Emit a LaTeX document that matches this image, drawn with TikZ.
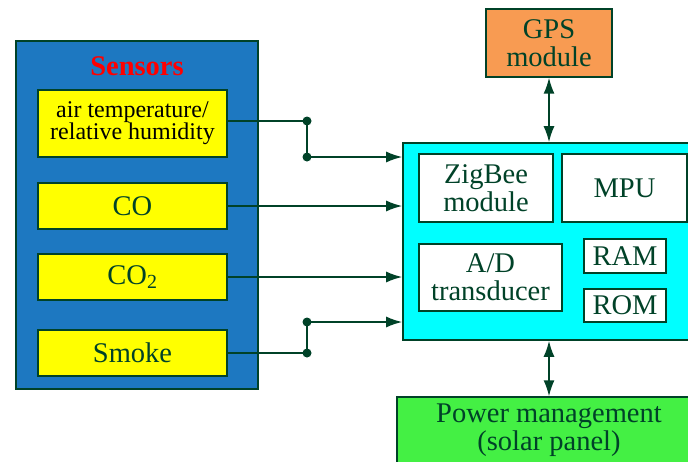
\documentclass[tikz,border=0pt]{standalone}
\usepackage{fontspec}
\setmainfont{Liberation Serif}
\definecolor{sensblue}{RGB}{29, 120, 193}
\definecolor{darkline}{RGB}{0, 66, 40}
\definecolor{gpsorange}{RGB}{248, 155, 82}
\definecolor{powergreen}{RGB}{68, 240, 68}
\definecolor{mcucyan}{RGB}{0, 255, 255}
\definecolor{sensyellow}{RGB}{255, 255, 0}
\usetikzlibrary{arrows.meta, positioning, calc}

\begin{document}
\begin{tikzpicture}[x=1pt, y=-1pt,
  outer/.style={draw=darkline, line width=1.6pt, inner sep=0pt},
  sbox/.style={draw=darkline, line width=1.2pt, fill=sensyellow, minimum width=189pt, inner sep=0pt, align=center, text=darkline, font=\fontsize{28.5}{28}\selectfont},
  ibox/.style={draw=darkline, line width=1.4pt, fill=white, inner sep=0pt, align=center, text=darkline, font=\fontsize{28.5}{28}\selectfont},
  link/.style={draw=darkline, line width=1.6pt},
  arr/.style={link, -{Latex[length=16pt, width=11pt]}},
  darr/.style={link, {Latex[length=16pt, width=11pt]}-{Latex[length=16pt, width=11pt]}},
  jdot/.style={circle, fill=darkline, inner sep=0pt, minimum size=9pt}
]
  \clip (0,0) rectangle (688,461);

  % sensor block
  \node[outer, fill=sensblue, minimum width=242pt, minimum height=348pt] (sensors) at (137, 215) {};
  \node[text=red, font=\fontsize{28.5}{28}\selectfont\bfseries] (title) at (137, 66) {Sensors};
  \node[sbox, minimum height=67pt, text=black, font=\fontsize{24}{22}\selectfont] (temp) at (132.5, 123.5) {air temperature/\\relative humidity};
  \node[sbox, minimum height=46pt] (co) at (132.5, 206) {CO};
  \node[sbox, minimum height=46pt] (cotwo) at (132.5, 277) {CO\textsubscript{2}};
  \node[sbox, minimum height=46pt] (smoke) at (132.5, 353) {Smoke};

  % controller block
  \node[outer, fill=mcucyan, minimum width=292pt, minimum height=197pt] (mcu) at (549, 241.5) {};
  \node[ibox, minimum width=134pt, minimum height=68pt] (zigbee) at (486, 188) {ZigBee\\module};
  \node[ibox, minimum width=125pt, minimum height=68pt] (mpu) at (624.5, 188) {MPU};
  \node[ibox, minimum width=143pt, minimum height=67pt] (adc) at (490.5, 277.5) {A/D\\transducer};
  \node[ibox, minimum width=82pt, minimum height=34pt] (ram) at (625, 256) {RAM};
  \node[ibox, minimum width=82pt, minimum height=33pt] (rom) at (625, 305.5) {ROM};

  % GPS and power
  \node[ibox, fill=gpsorange, minimum width=126pt, minimum height=68pt] (gps) at (549, 43) {GPS\\module};
  \node[ibox, fill=powergreen, minimum width=304pt, minimum height=66pt] (power) at (549, 430) {Power management\\(solar panel)};

  % connectors
  \coordinate (ja) at (307, 121);
  \coordinate (jb) at (307, 157);
  \coordinate (jc) at (307, 322);
  \coordinate (jd) at (307, 353);
  \draw[link] (temp.east |- ja) -- (ja) -- (jb);
  \draw[arr] (jb) -- (jb -| mcu.west);
  \draw[arr] (co.east) -- (co.east -| mcu.west);
  \draw[arr] (cotwo.east) -- (cotwo.east -| mcu.west);
  \draw[link] (smoke.east |- jd) -- (jd) -- (jc);
  \draw[arr] (jc) -- (jc -| mcu.west);
  \foreach \j in {ja, jb, jc, jd}
    \node[jdot] at (\j) {};
  \draw[darr] (gps) -- (mcu);
  \draw[darr] (mcu) -- (power);
\end{tikzpicture}
\end{document}
